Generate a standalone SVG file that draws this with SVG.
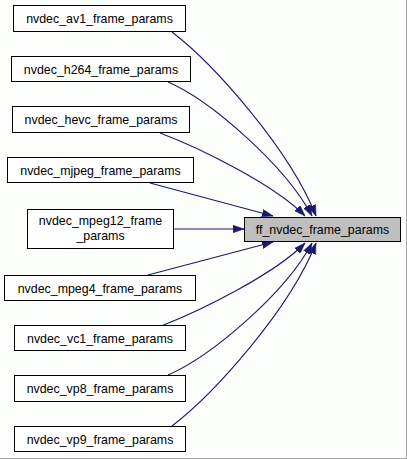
<svg xmlns="http://www.w3.org/2000/svg" width="407" height="459" viewBox="0 0 407 459">
<defs>
<style>
.bx{fill:#ffffff;stroke:#000000;stroke-width:1}
.tg{fill:#bfbfbf;stroke:#000000;stroke-width:1}
.t{font-family:"Liberation Sans",Arial,sans-serif;font-size:12.4px;fill:#000000;text-anchor:middle}
.e{fill:none;stroke:#191970;stroke-width:1.1;marker-end:url(#ah)}
</style>
<marker id="ah" viewBox="0 0 10 7" refX="10" refY="3.5" markerWidth="11" markerHeight="8" markerUnits="userSpaceOnUse" orient="auto">
<path d="M0,0 L10,3.5 L0,7 z" fill="#191970" stroke="#191970" stroke-width="0.5"/>
</marker>
</defs>
<rect x="0" y="0" width="407" height="459" fill="#fcfefc"/>
<line x1="406.5" y1="0" x2="406.5" y2="459" stroke="#a8a8a8"/>
<line x1="0" y1="458.5" x2="407" y2="458.5" stroke="#a8a8a8"/>
<g id="connectors">
<path class="e" d="M172,32 C215,65 290,150 316,216"/>
<path class="e" d="M168,82 C210,100 285,165 312,216"/>
<path class="e" d="M160,133 C200,148 275,185 305,216"/>
<path class="e" d="M150,183 L273,216"/>
<path class="e" d="M174,229 L244,229"/>
<path class="e" d="M148,275 L273,242"/>
<path class="e" d="M161,326 C200,311 275,274 305,243"/>
<path class="e" d="M168,375 C210,357 285,294 312,243"/>
<path class="e" d="M172,426 C215,393 290,309 316,243"/>
</g>
<g id="n_target">
<rect class="tg" x="244.5" y="217.5" width="156" height="24"/>
<text class="t" x="322.5" y="234">ff_nvdec_frame_params</text>
</g>
<g id="n_av1">
<rect class="bx" x="13.5" y="5.5" width="172" height="26"/>
<text class="t" x="99.5" y="23">nvdec_av1_frame_params</text>
</g>
<g id="n_h264">
<rect class="bx" x="11.5" y="56.5" width="179" height="25"/>
<text class="t" x="101" y="73.5">nvdec_h264_frame_params</text>
</g>
<g id="n_hevc">
<rect class="bx" x="12.5" y="106.5" width="177" height="26"/>
<text class="t" x="101" y="124">nvdec_hevc_frame_params</text>
</g>
<g id="n_mjpeg">
<rect class="bx" x="7.5" y="157.5" width="186" height="25"/>
<text class="t" x="100.5" y="174.5">nvdec_mjpeg_frame_params</text>
</g>
<g id="n_mpeg12">
<rect class="bx" x="27.5" y="209.5" width="146" height="39"/>
<text class="t" x="100.5" y="225">nvdec_mpeg12_frame</text>
<text class="t" x="100.5" y="240">_params</text>
</g>
<g id="n_mpeg4">
<rect class="bx" x="4.5" y="275.5" width="191" height="25"/>
<text class="t" x="100" y="292.5">nvdec_mpeg4_frame_params</text>
</g>
<g id="n_vc1">
<rect class="bx" x="14.5" y="325.5" width="171" height="25"/>
<text class="t" x="100" y="342.5">nvdec_vc1_frame_params</text>
</g>
<g id="n_vp8">
<rect class="bx" x="14.5" y="375.5" width="171" height="26"/>
<text class="t" x="100" y="393">nvdec_vp8_frame_params</text>
</g>
<g id="n_vp9">
<rect class="bx" x="14.5" y="426.5" width="171" height="25"/>
<text class="t" x="100" y="443.5">nvdec_vp9_frame_params</text>
</g>
</svg>
